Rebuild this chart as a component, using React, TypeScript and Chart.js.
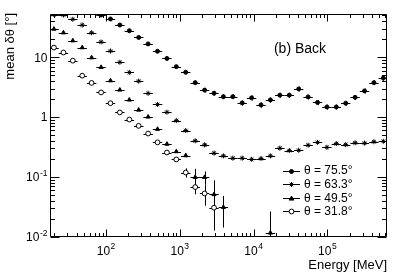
import React, { useEffect, useRef } from "react";
import { Chart, registerables } from "chart.js";

Chart.register(...registerables);

// Bin centres (MeV)
const ENERGY_MEV = [
  19.7, 26.5, 35.5, 47.6, 63.8, 85.8, 115, 154, 207, 277, 372, 499, 669, 897,
  1202, 1617, 2168, 2907, 3897, 5226, 7006, 9396, 12600, 16890, 22650, 30460,
  40830, 54760, 73430, 98450, 132000, 177000, 237200, 318200, 426600, 572000,
];

// mean δθ [deg], theta = 75.5 (filled circles)
const THETA_75_5 = [
  null, null, null, null, null, 50.7, 43.5, 34.5, 27.7, 21.4, 16.7, 12.6, 9.55,
  6.97, 5.62, 3.77, 2.83, 2.51, 2.2, 2.2, 1.73, 2.1, 1.6, 1.94, 2.33, 2.33, 2.96,
  2.18, 1.76, 1.48, 1.48, 1.71, 2.14, 2.74, 3.77, 4.49,
];
const THETA_75_5_ERR = [
  0, 0, 0, 0, 0, 0, 0, 0, 0, 0, 0, 0, 0, 0.4, 0.4, 0.3, 0.25, 0.22, 0.2, 0.2,
  0.17, 0.2, 0.16, 0.19, 0.22, 0.22, 0.28, 0.2, 0.17, 0.14, 0.14, 0.16, 0.2,
  0.26, 0.35, 0.42,
];

// theta = 63.3 (asterisks)
const THETA_63_3 = [
  51.5, 50.7, 43.0, 34.5, 25.6, 18.0, 12.7, 8.25, 5.58, 4.0, 2.5, 1.63, 1.21,
  0.877, 0.598, 0.403, 0.345, 0.251, 0.226, 0.207, 0.207, 0.198, 0.204, 0.226,
  0.304, 0.277, 0.28, 0.341, 0.38, 0.314, 0.362, 0.348, 0.373, 0.369, 0.389,
  0.395,
];
const THETA_63_3_ERR = [
  0, 0, 0, 0, 0, 0, 0, 0, 0, 0, 0, 0, 0, 0, 0, 0.02, 0.02, 0.015, 0.012, 0.01,
  0.01, 0.01, 0.01, 0.012, 0.015, 0.014, 0.014, 0.017, 0.019, 0.016, 0.018,
  0.017, 0.018, 0.018, 0.019, 0.02,
];

// theta = 49.5 (filled triangles)
const THETA_49_5 = [
  29.6, 25.7, 18.9, 14.5, 9.85, 6.81, 4.07, 2.85, 1.94, 1.32, 1.01, 0.631,
  0.356, 0.267, 0.229, 0.0993, 0.0993, 0.0513, 0.0314, null, null, null, null,
  0.0117, null, null, null, null, null, null, null, null, null, null, null, null,
];
const THETA_49_5_ERR = [
  0, 0, 0, 0, 0, 0, 0, 0, 0, 0, 0, 0.02, 0.015, 0.012, 0.015, 0.038, 0.025,
  0.037, 0.017, 0, 0, 0, 0, 0.015, 0, 0, 0, 0, 0, 0, 0, 0, 0, 0, 0, 0,
];

// theta = 31.8 (open circles)
const THETA_31_8 = [
  14.5, 12.0, 8.78, 4.92, 3.73, 2.59, 1.71, 1.2, 0.912, 0.716, 0.533, 0.38,
  0.257, 0.197, 0.119, 0.0681, 0.0533, 0.0308, null, null, null, null, null,
  null, null, null, null, null, null, null, null, null, null, null, null, null,
];
const THETA_31_8_ERR = [
  0, 0, 0, 0, 0, 0, 0, 0, 0, 0, 0, 0.015, 0.012, 0.012, 0.021, 0.0165, 0.02,
  0.018, 0, 0, 0, 0, 0, 0, 0, 0, 0, 0, 0, 0, 0, 0, 0, 0, 0, 0, 0, 0,
];

const LEGEND_LABELS = ["θ = 75.5°", "θ = 63.3°", "θ = 49.5°", "θ = 31.8°"];
const PANEL_LABEL = "(b) Back";
const X_TITLE = "Energy [MeV]";
const Y_TITLE = "mean δθ [°]";

const X_TICK_VALUES = [100, 1000, 10000, 100000];
const X_TICK_EXP = ["2", "3", "4", "5"];
const Y_TICK_VALUES = [0.01, 0.1, 1, 10];
const Y_TICK_BASE = ["10", "10", "1", "10"];
const Y_TICK_EXP = ["-2", "-1", "", ""];

const X_MIN = 17.42;
const X_MAX = 642000;
const Y_MIN = 0.01;
const Y_MAX = 52.7;

const FONT = '"Liberation Sans", Arial, Helvetica, sans-serif';

const SERIES = [
  { values: THETA_75_5, errs: THETA_75_5_ERR, style: "circle", fill: "#000", r: 2 },
  { values: THETA_63_3, errs: THETA_63_3_ERR, style: "star", fill: "#000", r: 2.5 },
  { values: THETA_49_5, errs: THETA_49_5_ERR, style: "triangle", fill: "#000", r: 2.4 },
  { values: THETA_31_8, errs: THETA_31_8_ERR, style: "circle", fill: "#fff", r: 2.4 },
];

function binEdges(i: number): [number, number] {
  const e = ENERGY_MEV;
  const n = e.length;
  const lo = i > 0 ? Math.sqrt(e[i - 1] * e[i]) : (e[i] * e[i]) / Math.sqrt(e[i] * e[i + 1]);
  const hi = i < n - 1 ? Math.sqrt(e[i] * e[i + 1]) : (e[i] * e[i]) / Math.sqrt(e[i - 1] * e[i]);
  return [lo, hi];
}

const errorBarPlugin = {
  id: "errorBars",
  beforeDatasetsDraw(chart: any) {
    const { ctx, chartArea: a, scales } = chart;
    const xs = scales.x;
    const ys = scales.y;
    ctx.save();
    ctx.beginPath();
    ctx.rect(a.left, a.top, a.right - a.left, a.bottom - a.top);
    ctx.clip();
    ctx.strokeStyle = "#000";
    ctx.lineWidth = 1;
    chart.data.datasets.forEach((ds: any) => {
      ds.data.forEach((p: any) => {
        const px = xs.getPixelForValue(p.x);
        const py = ys.getPixelForValue(p.y);
        const [lo, hi] = binEdges(p.i);
        ctx.beginPath();
        ctx.moveTo(xs.getPixelForValue(lo), Math.round(py) + 0.5);
        ctx.lineTo(xs.getPixelForValue(hi), Math.round(py) + 0.5);
        if (p.err > 0) {
          const top = ys.getPixelForValue(p.y + p.err);
          const low = p.y - p.err > 0 ? ys.getPixelForValue(p.y - p.err) : a.bottom;
          ctx.moveTo(Math.round(px) + 0.5, top);
          ctx.lineTo(Math.round(px) + 0.5, low);
        }
        ctx.stroke();
      });
    });
    ctx.restore();
  },
};

function drawSup(ctx: CanvasRenderingContext2D, base: string, exp: string, x: number, y: number, align: "center" | "right") {
  ctx.font = `12px ${FONT}`;
  const wb = ctx.measureText(base).width;
  ctx.font = `8.5px ${FONT}`;
  const we = exp ? ctx.measureText(exp).width + 0.5 : 0;
  const total = wb + we;
  const start = align === "center" ? x - total / 2 : x - total;
  ctx.textAlign = "left";
  ctx.textBaseline = "alphabetic";
  ctx.font = `12px ${FONT}`;
  ctx.fillText(base, start, y);
  if (exp) {
    ctx.font = `8.5px ${FONT}`;
    ctx.fillText(exp, start + wb + 0.5, y - 5.5);
  }
}

function drawMarker(ctx: CanvasRenderingContext2D, style: string, x: number, y: number, r: number, fill: string) {
  ctx.save();
  ctx.fillStyle = fill;
  ctx.strokeStyle = "#000";
  ctx.lineWidth = 1;
  ctx.beginPath();
  if (style === "circle") {
    ctx.arc(x, y, r, 0, Math.PI * 2);
    ctx.fill();
    ctx.stroke();
  } else if (style === "triangle") {
    const h = r * 1.5;
    ctx.moveTo(x, y - h * 0.66);
    ctx.lineTo(x + r, y + h * 0.44);
    ctx.lineTo(x - r, y + h * 0.44);
    ctx.closePath();
    ctx.fill();
    ctx.stroke();
  } else {
    ctx.moveTo(x - r, y);
    ctx.lineTo(x + r, y);
    ctx.moveTo(x, y - r);
    ctx.lineTo(x, y + r);
    const d = r * 0.7;
    ctx.moveTo(x - d, y - d);
    ctx.lineTo(x + d, y + d);
    ctx.moveTo(x - d, y + d);
    ctx.lineTo(x + d, y - d);
    ctx.stroke();
  }
  ctx.restore();
}

const framePlugin = {
  id: "rootFrame",
  afterDraw(chart: any) {
    const { ctx, chartArea: a, scales } = chart;
    const xs = scales.x;
    const ys = scales.y;
    const L = Math.round(a.left) + 0.5;
    const R = Math.round(a.right) - 0.5;
    const T = Math.round(a.top) + 0.5;
    const B = Math.round(a.bottom) - 0.5;
    ctx.save();
    ctx.strokeStyle = "#000";
    ctx.fillStyle = "#000";
    ctx.lineWidth = 1;
    ctx.beginPath();
    ctx.rect(L, T, R - L, B - T);
    ctx.stroke();

    // ticks
    ctx.beginPath();
    for (let d = 1; d <= 6; d++) {
      for (let m = 1; m <= 9; m++) {
        const v = m * Math.pow(10, d);
        if (v < X_MIN || v > X_MAX) continue;
        const px = Math.round(xs.getPixelForValue(v)) + 0.5;
        const len = m === 1 ? 7 : 3.5;
        ctx.moveTo(px, B);
        ctx.lineTo(px, B - len);
        ctx.moveTo(px, T);
        ctx.lineTo(px, T + len);
      }
    }
    for (let d = -2; d <= 1; d++) {
      for (let m = 1; m <= 9; m++) {
        const v = m * Math.pow(10, d);
        if (v < Y_MIN - 1e-9 || v > Y_MAX) continue;
        const py = Math.round(ys.getPixelForValue(v)) + 0.5;
        const len = m === 1 ? 9 : 4.5;
        ctx.moveTo(L, py);
        ctx.lineTo(L + len, py);
        ctx.moveTo(R, py);
        ctx.lineTo(R - len, py);
      }
    }
    ctx.stroke();

    // tick labels
    X_TICK_VALUES.forEach((v, i) => {
      const px = xs.getPixelForValue(v);
      drawSup(ctx, "10", X_TICK_EXP[i], px, 254.5, "center");
    });
    Y_TICK_VALUES.forEach((v, i) => {
      const py = ys.getPixelForValue(v);
      drawSup(ctx, Y_TICK_BASE[i], Y_TICK_EXP[i], 47.5, py + 4.3, "right");
    });

    // axis titles
    ctx.font = `13px ${FONT}`;
    ctx.textAlign = "right";
    ctx.textBaseline = "alphabetic";
    ctx.fillText(X_TITLE, a.right, 268.5);
    ctx.save();
    ctx.translate(13.5, a.top - 1);
    ctx.rotate(-Math.PI / 2);
    ctx.textAlign = "right";
    ctx.fillText(Y_TITLE, 0, 0);
    ctx.restore();

    // panel label
    ctx.font = `14px ${FONT}`;
    ctx.textAlign = "center";
    ctx.textBaseline = "middle";
    ctx.fillText(PANEL_LABEL, 300, 49.5);

    // legend
    const x0 = 283;
    const x1 = 300;
    LEGEND_LABELS.forEach((lab, i) => {
      const y = 170.5 + i * 13.6;
      const yy = Math.round(y) + 0.5;
      ctx.beginPath();
      ctx.moveTo(x0, yy);
      ctx.lineTo(x1, yy);
      ctx.stroke();
      const s = SERIES[i];
      drawMarker(ctx, s.style, (x0 + x1) / 2, yy, s.r, s.fill);
      ctx.fillStyle = "#000";
      ctx.font = `12px ${FONT}`;
      ctx.textAlign = "left";
      ctx.textBaseline = "middle";
      ctx.fillText(lab, 304, y + 0.5);
    });
    ctx.restore();
  },
};

export default function App() {
  const ref = useRef<HTMLCanvasElement>(null);
  useEffect(() => {
    const canvas = ref.current;
    if (!canvas) return;
    const datasets = SERIES.map((s, si) => ({
      label: LEGEND_LABELS[si],
      data: ENERGY_MEV.map((e, i) =>
        s.values[i] == null ? null : { x: e, y: s.values[i] as number, err: s.errs[i], i }
      ).filter((p) => p !== null),
      showLine: false,
      pointStyle: s.style,
      pointRadius: s.r,
      pointHoverRadius: s.r,
      backgroundColor: s.fill,
      borderColor: "#000",
      pointBackgroundColor: s.fill,
      pointBorderColor: "#000",
      pointBorderWidth: 1,
    }));
    const chart = new Chart(canvas, {
      type: "scatter",
      data: { datasets: datasets as any },
      options: {
        animation: false,
        responsive: false,
        events: [],
        layout: { padding: { left: 50, right: 12, top: 14, bottom: 36 } },
        scales: {
          x: { type: "logarithmic", min: X_MIN, max: X_MAX, bounds: "data", display: false },
          y: { type: "logarithmic", min: Y_MIN, max: Y_MAX, bounds: "data", display: false },
        },
        plugins: { legend: { display: false }, tooltip: { enabled: false } },
      },
      plugins: [errorBarPlugin, framePlugin],
    } as any);
    return () => chart.destroy();
  }, []);
  return (
    <div style={{ position: "absolute", left: 0, top: 0, width: 399, height: 273, background: "#fff" }}>
      <canvas ref={ref} width={399} height={273} style={{ display: "block" }} />
    </div>
  );
}
